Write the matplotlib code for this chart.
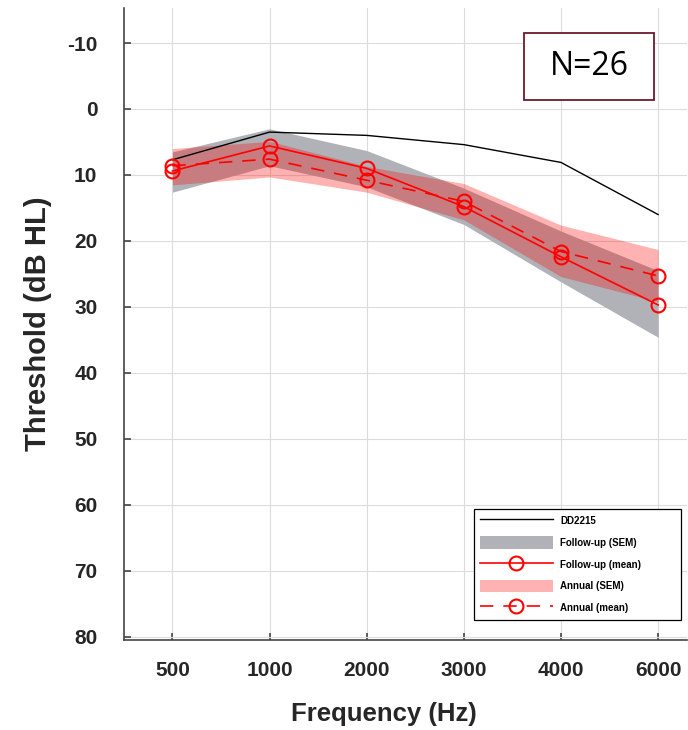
import numpy as np
import matplotlib
matplotlib.use("Agg")
import matplotlib.pyplot as plt
from matplotlib.patches import Patch, Rectangle
from matplotlib.lines import Line2D

# audiogram data (dB HL)
freqs = ["500", "1000", "2000", "3000", "4000", "6000"]
dd2215 = [7.7, 3.5, 4.0, 5.4, 8.1, 16.0]
followup_mean = [9.4, 5.6, 9.0, 14.8, 22.4, 29.7]
followup_lo = [6.5, 3.0, 6.3, 12.0, 18.5, 24.5]
followup_hi = [12.6, 8.6, 11.8, 17.5, 26.2, 34.6]
annual_mean = [8.6, 7.6, 10.8, 14.0, 21.6, 25.3]
annual_lo = [6.0, 4.9, 8.7, 11.3, 17.6, 21.3]
annual_hi = [11.5, 10.3, 12.6, 16.8, 25.4, 29.2]
yticks = [-10, 0, 10, 20, 30, 40, 50, 60, 70, 80]

plt.rcParams['font.family'] = ['Liberation Sans', 'DejaVu Sans']
plt.rcParams['axes.unicode_minus'] = False

fig = plt.figure(figsize=(6.88, 7.30), dpi=100)
ax = fig.add_axes([0.180, 0.123, 0.819, 0.866])

x = np.arange(len(freqs))
gray = '#B0B2B8'
dash = (0, (8, 6))

ax.plot(x, dd2215, color='black', lw=1.0, zorder=3)
ax.fill_between(x, followup_lo, followup_hi, color=gray, lw=0, zorder=1)
ax.plot(x, followup_mean, color='red', lw=1.2, marker='o', ms=10,
        mfc='none', mec='red', mew=1.5, zorder=4)
ax.fill_between(x, annual_lo, annual_hi, color='red', alpha=0.3, lw=0, zorder=2)
ax.plot(x, annual_mean, color='red', lw=1.2, ls=dash, marker='o', ms=10,
        mfc='none', mec='red', mew=1.5, zorder=4)

ax.set_xlim(-0.5, 5.3)
ax.set_ylim(80.5, -15.3)
ax.set_xticks(x)
ax.set_xticklabels(freqs)
ax.set_yticks(yticks)
ax.grid(True, color='#DCDCDC', lw=0.8)
ax.set_axisbelow(True)

for s in ['top', 'right']:
    ax.spines[s].set_visible(False)
for s in ['left', 'bottom']:
    ax.spines[s].set_color('#444444')
    ax.spines[s].set_linewidth(1.2)

ax.tick_params(axis='both', direction='in', length=5, width=1.2, color='#444444',
               labelsize=15, labelcolor='#262626')
ax.tick_params(axis='y', pad=19)
ax.tick_params(axis='x', pad=15)
for lab in ax.get_xticklabels() + ax.get_yticklabels():
    lab.set_fontweight('bold')

ax.set_xlabel('Frequency (Hz)', fontsize=18.5, fontweight='bold', color='#262626', va='center')
ax.xaxis.set_label_coords(0.461, -0.117)
ax.set_ylabel('Threshold (dB HL)', fontsize=21, fontweight='bold', color='#262626', labelpad=11)

handles = [
    Line2D([], [], color='black', lw=1.0),
    Patch(facecolor=gray, edgecolor='none'),
    Line2D([], [], color='red', lw=1.2, marker='o', ms=10, mfc='none', mew=1.5),
    Patch(facecolor='red', alpha=0.3, edgecolor='none'),
    Line2D([], [], color='red', lw=1.2, ls=dash, marker='o', ms=10, mfc='none', mew=1.5),
]
labels = ['DD2215', 'Follow-up (SEM)', 'Follow-up (mean)', 'Annual (SEM)', 'Annual (mean)']
leg = ax.legend(handles, labels, loc='lower left', bbox_to_anchor=(0.621, 0.032, 0.368, 0.175),
                mode='expand', prop={'size': 7, 'weight': 'bold'}, handlelength=7.5,
                handleheight=1.6, labelspacing=0.95, fancybox=False, framealpha=1,
                edgecolor='black', borderpad=0.6, handletextpad=0.8, borderaxespad=0)
leg.get_frame().set_linewidth(0.9)

# N=26 box
ax.add_patch(Rectangle((0.711, 0.855), 0.230, 0.106, transform=ax.transAxes,
                       facecolor='white', edgecolor='#6B1A2E', lw=1.3, zorder=5))
ax.text(0.826, 0.908, 'N=26', transform=ax.transAxes, fontsize=23,
        fontfamily='Open Sans', ha='center', va='center', zorder=6)

fig.savefig('out.png', dpi=100)
